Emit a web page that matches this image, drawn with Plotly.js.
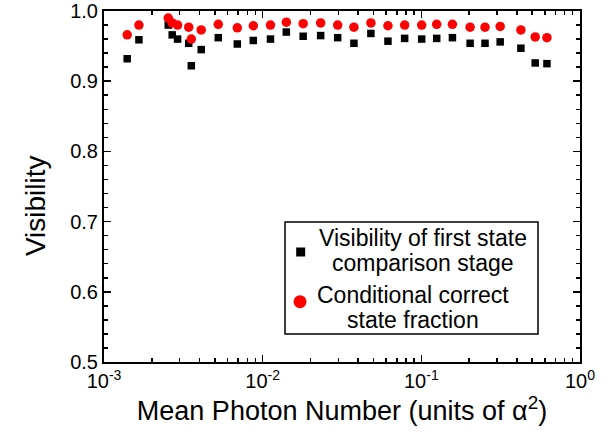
<!DOCTYPE html>
<html>
<head>
<meta charset="utf-8">
<script src="https://cdn.plot.ly/plotly-3.0.1.min.js"></script>
<style>html,body{margin:0;padding:0;background:#fff;}#chart{width:616px;height:433px;}</style>
</head>
<body>
<div id="chart"></div>
<script>
// Mean photon number (units of alpha^2)
const photonNumber = [0.00140, 0.00166, 0.00254, 0.00269, 0.00291, 0.00342, 0.00355, 0.00410, 0.00525,
  0.00692, 0.00873, 0.0112, 0.0141, 0.0180, 0.0232, 0.0297,
  0.0376, 0.0481, 0.0616, 0.0785, 0.1005, 0.125, 0.157,
  0.203, 0.252, 0.314, 0.424, 0.522, 0.619];
// Visibility of first state comparison stage
const visibilityFirst = [0.932, 0.959, 0.980, 0.966, 0.960, 0.954, 0.922, 0.945, 0.962,
  0.953, 0.958, 0.960, 0.970, 0.964, 0.965, 0.962,
  0.954, 0.968, 0.957, 0.961, 0.960, 0.961, 0.962,
  0.954, 0.954, 0.956, 0.947, 0.926, 0.925];
// Conditional correct state fraction
const correctFraction = [0.966, 0.980, 0.990, 0.983, 0.980, 0.977, 0.960, 0.973, 0.981,
  0.976, 0.979, 0.980, 0.984, 0.982, 0.983, 0.980,
  0.977, 0.983, 0.979, 0.980, 0.980, 0.981, 0.981,
  0.977, 0.977, 0.978, 0.973, 0.963, 0.962];
// legend labels, one list of lines per series
const seriesLines = [['Visibility of first state', 'comparison stage'],
                     ['Conditional correct', 'state fraction']];
const seriesNames = seriesLines.map(l => l.join(' '));
const xTickVals = [0.001, 0.01, 0.1, 1];
const xTickText = ['10<sup>-3</sup>', '10<sup>-2</sup>', '10<sup>-1</sup>', '10<sup>0</sup>'];
const xTitle = 'Mean Photon Number (units of α<sup>2</sup>)';
const yTitle = 'Visibility';

const minorX = [];
for (let d = -3; d < 0; d++) { for (let k = 2; k <= 9; k++) minorX.push(k * Math.pow(10, d)); }

const FONT = 'Liberation Sans, Arial, sans-serif';
const traces = [
  {x: photonNumber, y: visibilityFirst, name: seriesNames[0], type: 'scatter', mode: 'markers',
   marker: {symbol: 'square', size: 7.5, color: '#000000'}},
  {x: photonNumber, y: correctFraction, name: seriesNames[1], type: 'scatter', mode: 'markers',
   marker: {symbol: 'circle', size: 9.5, color: '#ff0000'}}
];

// hand-built legend (centred multi-line labels as in the reference)
const legendBox = {x0: 0.3803, x1: 0.9118, y0: 0.0798, y1: 0.3989};
const entryCenterX = [0.6702, 0.6492];
const lineY = [[0.3533, 0.2821], [0.1909, 0.1197]];
const symbolPos = [{x: 0.4132, y: 0.3134}, {x: 0.4118, y: 0.1718}];

const annotations = [];
seriesLines.forEach((lines, i) => {
  lines.forEach((txt, j) => {
    annotations.push({xref: 'paper', yref: 'paper', x: entryCenterX[i], y: lineY[i][j],
      xanchor: 'center', yanchor: 'middle', showarrow: false, text: txt,
      font: {family: FONT, size: 23, color: '#000'}});
  });
});
annotations.push({xref: 'paper', yref: 'paper', x: -0.145, y: 0.447, xanchor: 'center', yanchor: 'middle',
  textangle: -90, showarrow: false, text: yTitle, font: {family: FONT, size: 28, color: '#000'}});

const shapes = [
  {type: 'rect', xref: 'paper', yref: 'paper', x0: legendBox.x0, x1: legendBox.x1, y0: legendBox.y0, y1: legendBox.y1,
   line: {color: '#000', width: 1.5}, fillcolor: '#fff', layer: 'above'},
  {type: 'rect', xref: 'paper', yref: 'paper', xsizemode: 'pixel', ysizemode: 'pixel',
   xanchor: symbolPos[0].x, yanchor: symbolPos[0].y, x0: -4.5, x1: 4.5, y0: -4.5, y1: 4.5,
   line: {width: 0}, fillcolor: traces[0].marker.color, layer: 'above'},
  {type: 'circle', xref: 'paper', yref: 'paper', xsizemode: 'pixel', ysizemode: 'pixel',
   xanchor: symbolPos[1].x, yanchor: symbolPos[1].y, x0: -6.5, x1: 6.5, y0: -6.5, y1: 6.5,
   line: {width: 0}, fillcolor: traces[1].marker.color, layer: 'above'}
];

const layout = {
  width: 616, height: 433,
  margin: {l: 104, r: 36, t: 11, b: 71},
  paper_bgcolor: '#ffffff', plot_bgcolor: '#ffffff',
  font: {family: FONT, color: '#000', size: 20},
  showlegend: false,
  annotations: annotations,
  shapes: shapes,
  xaxis: {type: 'log', range: [-3, 0], tickmode: 'array', tickvals: xTickVals, ticktext: xTickText,
    ticks: 'inside', ticklen: 7, tickwidth: 1.5, tickcolor: '#000',
    showline: true, linewidth: 2, linecolor: '#000', mirror: 'allticks',
    showgrid: false, zeroline: false,
    minor: {tickmode: 'array', tickvals: minorX, ticks: 'inside', ticklen: 4, tickwidth: 1.5, tickcolor: '#000', showgrid: false},
    tickfont: {family: FONT, size: 20},
    title: {text: xTitle, font: {family: FONT, size: 27}, standoff: 6}},
  yaxis: {range: [0.5, 1.0], dtick: 0.1, tick0: 0.5, tickformat: '.1f',
    ticks: 'inside', ticklen: 7, tickwidth: 1.5, tickcolor: '#000',
    showline: true, linewidth: 2, linecolor: '#000', mirror: 'allticks',
    showgrid: false, zeroline: false,
    minor: {dtick: 0.02, ticks: 'inside', ticklen: 4, tickwidth: 1.5, tickcolor: '#000', showgrid: false},
    tickfont: {family: FONT, size: 20}}
};
Plotly.newPlot('chart', traces, layout, {displayModeBar: false, staticPlot: true});
</script>
</body>
</html>
